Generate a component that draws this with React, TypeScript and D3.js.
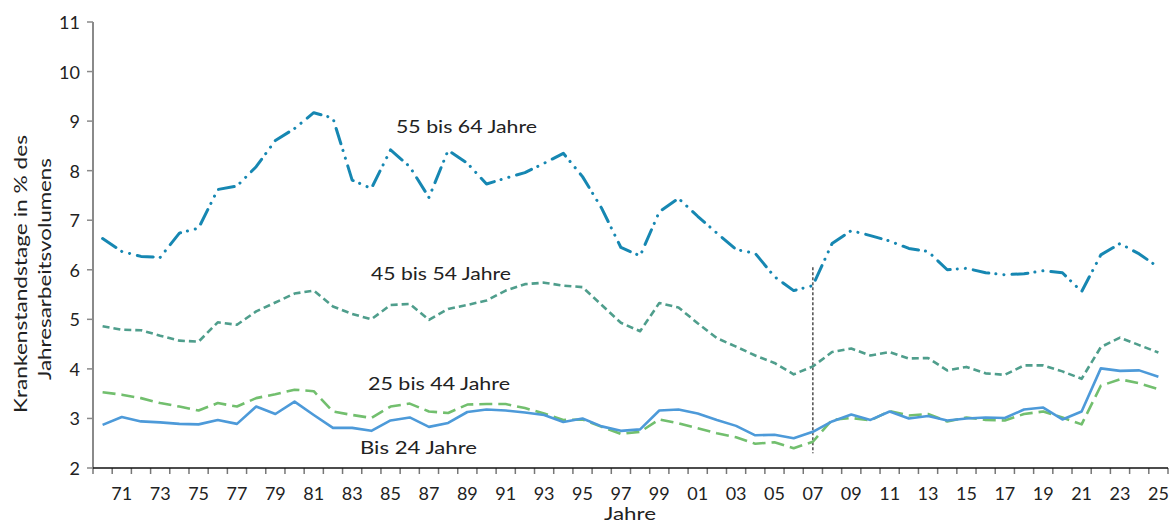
import React from 'react';
import * as d3 from 'd3';

const years: number[] = [
  1970, 1971, 1972, 1973, 1974, 1975, 1976, 1977, 1978, 1979,
  1980, 1981, 1982, 1983, 1984, 1985, 1986, 1987, 1988, 1989,
  1990, 1991, 1992, 1993, 1994, 1995, 1996, 1997, 1998, 1999,
  2000, 2001, 2002, 2003, 2004, 2005, 2006, 2007, 2008, 2009,
  2010, 2011, 2012, 2013, 2014, 2015, 2016, 2017, 2018, 2019,
  2020, 2021, 2022, 2023, 2024, 2025,
];

const bis24: number[] = [
  2.87, 3.03, 2.94, 2.92, 2.89, 2.88, 2.97, 2.89, 3.24, 3.09,
  3.34, 3.07, 2.81, 2.81, 2.75, 2.96, 3.02, 2.83, 2.91, 3.13,
  3.18, 3.16, 3.12, 3.07, 2.93, 3.0, 2.84, 2.75, 2.78, 3.16,
  3.18, 3.1, 2.97, 2.85, 2.66, 2.67, 2.6, 2.73, 2.94, 3.08,
  2.97, 3.14, 3.0, 3.05, 2.96, 3.0, 3.02, 3.01, 3.18, 3.22,
  2.98, 3.14, 4.01, 3.96, 3.97, 3.84,
];

const j25bis44: number[] = [
  3.53, 3.48, 3.41, 3.31, 3.24, 3.16, 3.31, 3.24, 3.41, 3.49,
  3.58, 3.55, 3.14, 3.07, 3.01, 3.24, 3.3, 3.14, 3.11, 3.28,
  3.29, 3.29, 3.21, 3.1, 2.97, 2.98, 2.83, 2.69, 2.73, 2.98,
  2.9, 2.8, 2.7, 2.62, 2.49, 2.52, 2.4, 2.53, 2.97, 3.01,
  2.96, 3.15, 3.06, 3.09, 2.94, 3.02, 2.97, 2.96, 3.09, 3.14,
  3.02, 2.88, 3.66, 3.79, 3.71, 3.59,
];

const j45bis54: number[] = [
  4.86, 4.79, 4.78, 4.67, 4.57, 4.55, 4.94, 4.89, 5.16, 5.34,
  5.52, 5.58, 5.26, 5.11, 5.0, 5.29, 5.31, 4.99, 5.21, 5.29,
  5.38, 5.58, 5.71, 5.74, 5.68, 5.65, 5.29, 4.93, 4.76, 5.33,
  5.24, 4.92, 4.62, 4.45, 4.27, 4.12, 3.89, 4.05, 4.34, 4.41,
  4.27, 4.34, 4.21, 4.22, 3.97, 4.04, 3.91, 3.88, 4.07, 4.07,
  3.95, 3.8, 4.44, 4.63, 4.48, 4.33,
];

const j55bis64: number[] = [
  6.63, 6.37, 6.27, 6.25, 6.74, 6.84, 7.62, 7.69, 8.08, 8.61,
  8.85, 9.17, 9.06, 7.81, 7.64, 8.42, 8.08, 7.46, 8.41, 8.15,
  7.73, 7.85, 7.96, 8.15, 8.35, 7.88, 7.24, 6.45, 6.28, 7.17,
  7.44, 7.08, 6.74, 6.41, 6.33, 5.86, 5.58, 5.68, 6.53, 6.79,
  6.69, 6.58, 6.43, 6.37, 6.0, 6.03, 5.94, 5.9, 5.92, 5.98,
  5.94, 5.56, 6.3, 6.53, 6.32, 6.05,
];

const yTicks: number[] = [2, 3, 4, 5, 6, 7, 8, 9, 10, 11];
const xTickLabels: string[] = [
  '71', '73', '75', '77', '79', '81', '83', '85', '87', '89', '91', '93', '95',
  '97', '99', '01', '03', '05', '07', '09', '11', '13', '15', '17', '19', '21', '23', '25',
];
const seriesNames: string[] = ['55 bis 64 Jahre', '45 bis 54 Jahre', '25 bis 44 Jahre', 'Bis 24 Jahre'];
const yTitle: string[] = ['Krankenstandstage in % des', 'Jahresarbeitsvolumens'];
const xTitle = 'Jahre';
const markerYear = 2007;
const markerRange: number[] = [2.3, 6.05];

const FONT = 'Lato, "Open Sans", sans-serif';
const FS = 18;

export default function App() {
  const W = 1172;
  const H = 523;
  const left = 93;
  const right = 1168;
  const top = 22;
  const bottom = 468;

  const x = d3
    .scaleBand<string>()
    .domain(years.map(String))
    .range([left, right])
    .padding(0);
  const bw = x.bandwidth();
  const cx = (yr: number) => (x(String(yr)) as number) + bw / 2;
  const y = d3.scaleLinear().domain([2, 11]).range([bottom, top]);

  const line = d3
    .line<number>()
    .x((_, i) => cx(years[i]))
    .y((d) => y(d))
    .curve(d3.curveLinear);

  const series = [
    { values: j55bis64, color: '#1687b2', width: 3, dash: '16 7 0.1 8 0.1 8', cap: 'round' },
    { values: j45bis54, color: '#4f9e8c', width: 2.6, dash: '7 4', cap: 'butt' },
    { values: j25bis44, color: '#72bf6e', width: 2.6, dash: '13 6', cap: 'butt' },
    { values: bis24, color: '#4d9ad9', width: 2.6, dash: 'none', cap: 'butt' },
  ];

  const labelPos = [
    { x: 396, y: 126, len: 141 },
    { x: 371, y: 273, len: 140 },
    { x: 368, y: 383, len: 142 },
    { x: 360, y: 447, len: 117 },
  ];

  const boundaries = years.map((yr) => x(String(yr)) as number).concat([right]);

  return (
    <svg
      width={W}
      height={H}
      style={{ position: 'absolute', left: 0, top: 0, display: 'block', background: '#fff' }}
      fontFamily={FONT}
    >
      {/* y axis */}
      <line x1={left} x2={left} y1={top} y2={bottom} stroke="#8a8a8a" strokeWidth={2} />
      {yTicks.map((t) => (
        <g key={'yt' + t}>
          <line x1={left - 6} x2={left} y1={y(t)} y2={y(t)} stroke="#8a8a8a" strokeWidth={1.5} />
          <text
            x={80}
            y={y(t)}
            textAnchor="end"
            dominantBaseline="central"
            fontSize={FS}
            fill="#222"
          >
            {t}
          </text>
        </g>
      ))}

      {/* x axis */}
      {boundaries.map((b, i) => (
        <line key={'xt' + i} x1={b} x2={b} y1={bottom} y2={bottom + 6} stroke="#777" strokeWidth={1.5} />
      ))}
      <line x1={left} x2={right} y1={bottom} y2={bottom} stroke="#111" strokeWidth={1.5} />
      {years.map((yr) => {
        const lab = String(yr).slice(2);
        if (!xTickLabels.includes(lab) || yr % 2 === 0) return null;
        return (
          <text
            key={'xl' + yr}
            x={cx(yr)}
            y={493}
            textAnchor="middle"
            dominantBaseline="central"
            fontSize={FS}
            fill="#222"
          >
            {lab}
          </text>
        );
      })}
      <text
        x={630}
        y={513}
        textAnchor="middle"
        dominantBaseline="central"
        fontSize={FS}
        fill="#222"
        textLength={52}
        lengthAdjust="spacingAndGlyphs"
      >
        {xTitle}
      </text>

      {/* y title */}
      <text
        transform={`translate(20,274) rotate(-90)`}
        textAnchor="middle"
        dominantBaseline="central"
        fontSize={FS}
        fill="#222"
        textLength={278}
        lengthAdjust="spacingAndGlyphs"
      >
        {yTitle[0]}
      </text>
      <text
        transform={`translate(44,269) rotate(-90)`}
        textAnchor="middle"
        dominantBaseline="central"
        fontSize={FS}
        fill="#222"
        textLength={222}
        lengthAdjust="spacingAndGlyphs"
      >
        {yTitle[1]}
      </text>

      {/* marker line */}
      <line
        x1={cx(markerYear)}
        x2={cx(markerYear)}
        y1={y(markerRange[1])}
        y2={y(markerRange[0])}
        stroke="#333"
        strokeWidth={1.3}
        strokeDasharray="3 2"
      />

      {/* series */}
      {series.map((s, i) => (
        <path
          key={'s' + i}
          d={line(s.values) || ''}
          fill="none"
          stroke={s.color}
          strokeWidth={s.width}
          strokeDasharray={s.dash}
          strokeLinecap={s.cap as any}
          strokeLinejoin="round"
        />
      ))}

      {/* labels */}
      {seriesNames.map((n, i) => (
        <text
          key={'lab' + i}
          x={labelPos[i].x}
          y={labelPos[i].y}
          dominantBaseline="central"
          fontSize={FS}
          fill="#222"
          textLength={labelPos[i].len}
          lengthAdjust="spacingAndGlyphs"
        >
          {n}
        </text>
      ))}
    </svg>
  );
}
